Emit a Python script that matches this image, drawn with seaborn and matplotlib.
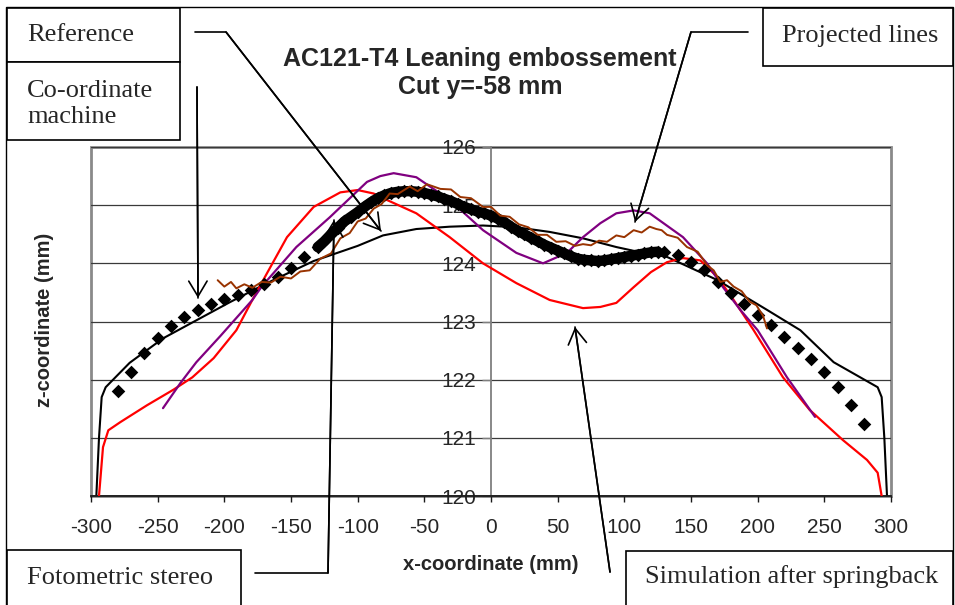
import numpy as np
import pandas as pd
import matplotlib
matplotlib.use("Agg")
import matplotlib.pyplot as plt
import seaborn as sns
from matplotlib.patches import Rectangle, FancyArrowPatch, ArrowStyle
from matplotlib.lines import Line2D

# ---------------- data ----------------
# Reference (thin black line)
ref_x = [-296, -294, -292, -289, -271, -246, -221, -196, -168, -133, -100, -81, -56, -31, -6,
         19, 44, 69, 94, 112, 132, 170, 207, 232, 257, 290, 293, 295, 297]
ref_z = [120.0, 121.0, 121.7, 121.87, 122.29, 122.71, 123.02, 123.33, 123.66, 124.04, 124.3, 124.48,
         124.59, 124.63, 124.65, 124.62, 124.54, 124.43, 124.28, 124.19, 124.11, 123.71, 123.2,
         122.85, 122.3, 121.87, 121.7, 121.0, 120.0]

# Co-ordinate machine (black diamonds)
cmm_x = [-280, -270, -260, -250, -240, -230, -220, -210, -200, -190, -180, -170, -160, -150, -140,
         -130, -125, -120, -115, -110, -105, -100, -95, -90, -85, -80, -75, -70, -65, -60, -55, -50,
         -45, -40, -35, -30, -25, -20, -15, -10, -5, 0, 5, 10, 15, 20, 25, 30, 35, 40, 45, 50, 55,
         60, 65, 70, 75, 80, 85, 90, 95, 100, 105, 110, 115, 120, 125,
         130, 140, 150, 160, 170, 180, 190, 200, 210, 220, 230, 240, 250, 260, 270, 280]
cmm_z = [121.80, 122.13, 122.46, 122.71, 122.92, 123.08, 123.20, 123.30, 123.38, 123.45, 123.54,
         123.64, 123.76, 123.92, 124.11,
         124.28, 124.38, 124.50, 124.61, 124.72, 124.80, 124.88, 124.97, 125.05, 125.12, 125.17,
         125.21, 125.23, 125.24, 125.24, 125.23, 125.21, 125.18, 125.15, 125.11, 125.07, 125.02,
         124.97, 124.93, 124.89, 124.86, 124.82, 124.77, 124.71, 124.63, 124.56, 124.50, 124.44,
         124.38, 124.32, 124.27, 124.22, 124.17, 124.12, 124.08, 124.06, 124.05, 124.04, 124.05,
         124.07, 124.09, 124.11, 124.13, 124.15, 124.17, 124.19, 124.20,
         124.19, 124.14, 124.02, 123.88, 123.68, 123.49, 123.30, 123.11, 122.94, 122.73, 122.54,
         122.35, 122.13, 121.87, 121.56, 121.24]

# Simulation after springback (red)
sim_x = [-294, -291, -287, -278, -258, -238, -224, -208, -191, -179, -168, -153, -133, -113, -100,
         -88, -81, -56, -31, -6, 19, 44, 69, 82, 94, 107, 120, 132, 144, 157, 170, 182, 197, 219,
         239, 264, 282, 290, 293]
sim_z = [120.0, 120.84, 121.13, 121.27, 121.56, 121.83, 122.04, 122.37, 122.85, 123.37, 123.83,
         124.45, 124.97, 125.22, 125.26, 125.2, 125.12, 124.86, 124.45, 124.0, 123.66, 123.37,
         123.23, 123.25, 123.32, 123.59, 123.85, 124.02, 124.09, 124.05, 123.76, 123.37, 122.85,
         122.04, 121.48, 120.96, 120.62, 120.4, 120.0]

# Projected lines (purple)
proj_x = [-246, -233, -221, -203, -179, -172, -146, -121, -93, -83, -73, -56, -31, -6, 19, 39, 57,
          69, 82, 94, 107, 119, 144, 162, 174, 187, 200, 222, 243]
proj_z = [121.51, 121.94, 122.3, 122.75, 123.37, 123.6, 124.28, 124.79, 125.4, 125.5, 125.55,
          125.48, 125.09, 124.57, 124.18, 124.0, 124.18, 124.45, 124.69, 124.86, 124.91, 124.86,
          124.45, 124.0, 123.59, 123.2, 122.85, 122.04, 121.36]

# Fotometric stereo (brown, noisy)
foto_x = [-205, -200, -195, -191, -185, -179, -172, -165, -158, -150, -143, -136, -128, -120, -113,
          -106, -100, -94, -88, -82, -76, -70, -61, -55, -48, -38, -30, -23, -15, -6, 0, 7, 14, 21,
          28, 35, 42, 49, 56, 63, 69, 75, 81, 87, 94, 100, 107, 113, 119, 124, 128, 132, 140, 147,
          155, 162, 167, 172, 177, 182, 188, 194, 199, 204, 207]
foto_z = [123.71, 123.60, 123.68, 123.57, 123.64, 123.58, 123.68, 123.67, 123.77, 123.74, 123.86,
          123.88, 124.08, 124.17, 124.43, 124.52, 124.72, 124.77, 124.94, 125.02, 125.20, 125.19,
          125.32, 125.24, 125.36, 125.28, 125.27, 125.14, 125.12, 124.97, 124.97, 124.82, 124.80,
          124.67, 124.62, 124.49, 124.49, 124.37, 124.38, 124.30, 124.33, 124.31, 124.39, 124.37,
          124.48, 124.45, 124.57, 124.53, 124.63, 124.59, 124.57, 124.49, 124.44, 124.28, 124.20,
          123.97, 123.88, 123.68, 123.71, 123.60, 123.52, 123.34, 123.28, 123.10, 122.88]

x_ticks = [-300, -250, -200, -150, -100, -50, 0, 50, 100, 150, 200, 250, 300]
y_ticks = [120, 121, 122, 123, 124, 125, 126]

title = "AC121-T4 Leaning embossement\nCut y=-58 mm"
xlabel = "x-coordinate (mm)"
ylabel = "z-coordinate (mm)"

# ---------------- figure ----------------
sns.set_style("white")
plt.rcParams['font.family'] = ['Liberation Sans', 'DejaVu Sans']
plt.rcParams['axes.unicode_minus'] = False

W, H = 955, 605
fig = plt.figure(figsize=(W / 100, H / 100), dpi=100)
L, R, T, B = 91, 891, 147, 496
ax = fig.add_axes([L / W, 1 - B / H, (R - L) / W, (B - T) / H])

sns.lineplot(x=ref_x, y=ref_z, color='black', lw=1.5, sort=False, estimator=None, ax=ax, zorder=2)
sns.lineplot(x=sim_x, y=sim_z, color='#ff0000', lw=1.6, sort=False, estimator=None, ax=ax, zorder=3)
sns.lineplot(x=proj_x, y=proj_z, color='#800080', lw=1.6, sort=False, estimator=None, ax=ax, zorder=3)

cmm = pd.DataFrame({'x': cmm_x, 'z': cmm_z})
dense = cmm[(cmm.x >= -130) & (cmm.x <= 125)]
sns.lineplot(data=dense, x='x', y='z', color='black', lw=7.5, sort=False, estimator=None, ax=ax,
             zorder=4)
sns.scatterplot(data=cmm, x='x', y='z', marker='D', s=48, color='black', linewidth=0, ax=ax, zorder=4)

sns.lineplot(x=foto_x, y=foto_z, color='#993300', lw=1.4, sort=False, estimator=None, ax=ax, zorder=5)

ax.set_xlim(-300, 300)
ax.set_ylim(120, 126)
ax.set_xticks(x_ticks)
ax.set_yticks(y_ticks)
ax.set_xticklabels([str(v) for v in x_ticks])
ax.set_yticklabels([str(v) for v in y_ticks])

ax.yaxis.grid(True, color='#3a3a3a', lw=0.9)
ax.xaxis.grid(False)
ax.set_axisbelow(True)

for s in ['top', 'right']:
    ax.spines[s].set_visible(False)
ax.spines['left'].set_position(('data', 0))
ax.spines['left'].set_color('#7f7f7f')
ax.spines['left'].set_linewidth(1.3)
ax.spines['left'].set_zorder(1)
ax.spines['bottom'].set_color('#1a1a1a')
ax.spines['bottom'].set_linewidth(1.3)
ax.add_patch(Rectangle((0, 0), 1, 1, transform=ax.transAxes, fill=False,
                       edgecolor='#8a8a8a', lw=2.0, clip_on=False, zorder=0.5))

ax.tick_params(axis='y', left=True, direction='out', length=6.5, width=1.0, color='#7f7f7f',
               pad=4, labelsize=15)
ax.tick_params(axis='x', bottom=True, direction='out', length=4, width=1.0, color='#1a1a1a',
               pad=12, labelsize=15)

ax.set_xlabel(xlabel, fontsize=14.5, fontweight='bold')
ax.xaxis.set_label_coords((491 - L) / (R - L), (B - 564) / (B - T))
ax.xaxis.label.set_va('center')
ax.set_ylabel(ylabel, fontsize=14.5, fontweight='bold')
ax.yaxis.set_label_coords((44 - L) / (R - L), (B - 320) / (B - T))
ax.yaxis.label.set_va('center')

fig.text(480 / W, 1 - 73 / H, title, ha='center', va='center', fontsize=18,
         fontweight='bold', linespacing=1.25)

# ---------------- annotation boxes & arrows ----------------
def fx(x):
    return x / W

def fy(y):
    return 1 - y / H

fig.add_artist(Rectangle((fx(6), fy(612)), (953 - 6) / W, (612 - 7) / H, transform=fig.transFigure,
                         fill=False, edgecolor='black', lw=1.0, zorder=0))

serif = ['Liberation Serif', 'DejaVu Serif']

def box(x0, y0, x1, y1, text, tx, ty):
    fig.add_artist(Rectangle((fx(x0), fy(y1)), (x1 - x0) / W, (y1 - y0) / H,
                             transform=fig.transFigure, facecolor='white',
                             edgecolor='black', lw=1.2, zorder=10))
    fig.text(fx(tx), fy(ty), text, family=serif, fontsize=19, ha='left', va='center',
             linespacing=1.2, zorder=11)

box(7, 8, 180, 62, "Reference", 27, 35)
box(7, 62, 180, 140, "Co-ordinate\nmachine", 27, 104)
box(763, 8, 953, 66, "Projected lines", 782, 36)
box(7, 550, 241, 612, "Fotometric stereo", 27, 578)
box(626, 551, 953, 612, "Simulation after springback", 645, 577)

def poly_arrow(pts):
    xs = [fx(p[0]) for p in pts]
    ys = [fy(p[1]) for p in pts]
    fig.add_artist(Line2D(xs, ys, transform=fig.transFigure, color='black', lw=1.2, zorder=12))
    a = FancyArrowPatch((xs[-2], ys[-2]), (xs[-1], ys[-1]), transform=fig.transFigure,
                        arrowstyle=ArrowStyle('->', head_length=0.55, head_width=0.33),
                        mutation_scale=20, color='black', lw=1.2, shrinkA=0, shrinkB=0, zorder=12)
    fig.add_artist(a)

poly_arrow([(195, 32), (226, 32), (381, 231)])
poly_arrow([(197, 87), (198, 298)])
poly_arrow([(748, 32), (691, 32), (635, 222)])
poly_arrow([(255, 573), (328, 573), (334, 220)])
poly_arrow([(610, 572), (575, 327)])

fig.savefig("out.png", dpi=100)
